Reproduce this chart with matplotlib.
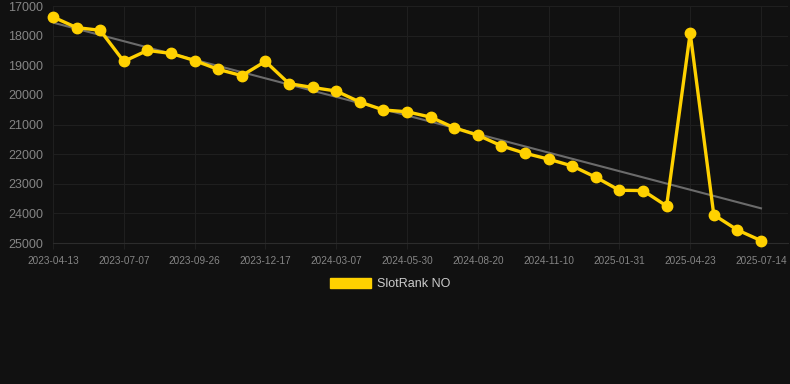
import numpy as np
import matplotlib
matplotlib.use("Agg")
import matplotlib.pyplot as plt
from matplotlib.patches import Patch

# rank values, one point per sample (evenly spaced on a category axis)
ranks = [17370, 17730, 17820, 18870, 18500, 18600, 18840, 19140, 19350, 18870,
         19620, 19750, 19870, 20240, 20510, 20570, 20750, 21110, 21360, 21720,
         21970, 22170, 22400, 22780, 23220, 23230, 23750, 17910, 24050, 24560,
         24920]
tick_labels = ["2023-04-13", "2023-07-07", "2023-09-26", "2023-12-17",
               "2024-03-07", "2024-05-30", "2024-08-20", "2024-11-10",
               "2025-01-31", "2025-04-23", "2025-07-14"]
y_ticks = [17000, 18000, 19000, 20000, 21000, 22000, 23000, 24000, 25000]
series_name = "SlotRank NO"

BG = "#111111"
GOLD = "#FFD100"
GRID = "#1f1f1f"
TEXT = "#858585"

plt.rcParams["font.family"] = ["Liberation Sans", "DejaVu Sans"]

fig = plt.figure(figsize=(7.9, 3.84), dpi=100, facecolor=BG)
ax = fig.add_axes([53 / 790, 1 - 243 / 384, (788 - 53) / 790, (243 - 6) / 384])
ax.set_facecolor(BG)

x = np.arange(len(ranks))

# linear trend
slope, icpt = np.polyfit(x, ranks, 1)
ax.plot(x, slope * x + icpt, color="#6b6b6b", lw=1.5, zorder=2)

ax.plot(x, ranks, color=GOLD, lw=2.4, marker="o", markersize=7.5,
        solid_joinstyle="miter", zorder=3, clip_on=False)

ax.set_ylim(25000, 17000)
ax.set_xlim(0, (788 - 53) / 23.6)
ax.set_yticks(y_ticks)
ax.set_yticklabels([str(v) for v in y_ticks])
ax.set_xticks(x[::3])
ax.set_xticklabels(tick_labels)

ax.grid(True, color=GRID, lw=0.8)
ax.set_axisbelow(True)
for side in ["top", "right", "left"]:
    ax.spines[side].set_visible(False)
ax.spines["bottom"].set_color("#2c2c2c")
ax.tick_params(axis="y", length=0, pad=7.2, labelsize=9, labelcolor=TEXT)
ax.tick_params(axis="x", length=4, color=GRID, pad=5, labelsize=7.2, labelcolor=TEXT)

handle = Patch(facecolor=GOLD, edgecolor=GOLD)
fig.legend([handle], [series_name], loc="center", bbox_to_anchor=(390 / 790, 1 - 284 / 384),
           frameon=False, handlelength=3.3, handleheight=0.9, handletextpad=0.5,
           labelcolor="#cccccc", fontsize=9)

fig.savefig("out.png", dpi=100, facecolor=BG)
